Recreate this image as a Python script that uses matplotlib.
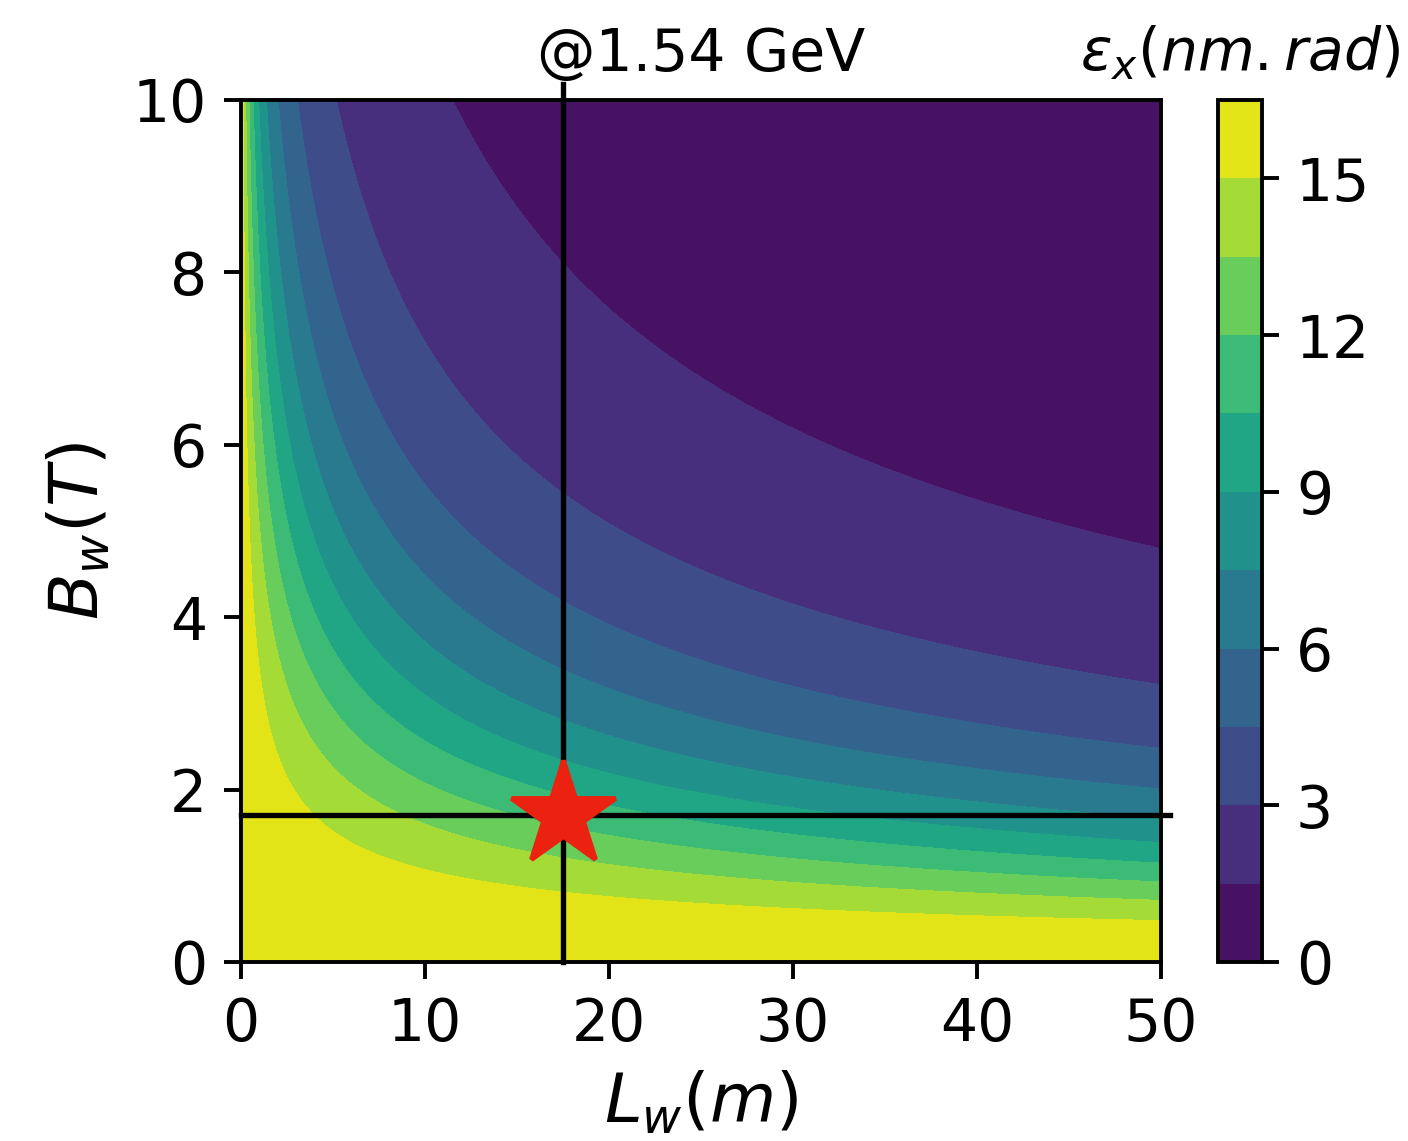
import numpy as np
import matplotlib
matplotlib.use('Agg')
import matplotlib.pyplot as plt

plt.rcParams['font.size'] = 12

# emittance model: eps = eps0 / (1 + k * Lw * Bw^2)
eps0 = 16.5        # nm.rad, bare lattice (Lw = 0 or Bw = 0)
k_damp = 0.0087    # 1/(m T^2)

L_range = [0, 50]      # m
B_range = [0, 10]      # T
levels = np.arange(0, 17, 1.5)
cbar_ticks = [0, 3, 6, 9, 12, 15]
x_ticks = [0, 10, 20, 30, 40, 50]
y_ticks = [0, 2, 4, 6, 8, 10]

# chosen working point
L_sel = 17.5
B_sel = 1.7
energy_label = '@1.54 GeV'

Lw = np.linspace(L_range[0], L_range[1], 600)
Bw = np.linspace(B_range[0], B_range[1], 600)
LL, BB = np.meshgrid(Lw, Bw)
eps = eps0 / (1 + k_damp * LL * BB**2)

fig = plt.figure(figsize=(1408/350, 1141/350), dpi=350)
ax = fig.add_axes([0.1712, 0.1569, 0.6534, 0.7555])
cax = fig.add_axes([0.8651, 0.1569, 0.0312, 0.7555])

cs = ax.contourf(LL, BB, eps, levels=levels, cmap='viridis')
cb = fig.colorbar(cs, cax=cax, ticks=cbar_ticks)
cax.set_title(r'$\epsilon_x(nm.rad)$', fontsize=12)

# cross hair through the working point (runs a bit past the frame)
ax.plot([L_sel, L_sel], [B_range[0], 10.18], c='k', lw=1.1, clip_on=False)
ax.plot([L_range[0], 50.5], [B_sel, B_sel], c='k', lw=1.1, clip_on=False)
ax.plot(L_sel, B_sel, marker='*', ms=22.5, c='#ec2210', mec='#ec2210',
        clip_on=False, zorder=5)

ax.set_xlim(L_range)
ax.set_ylim(B_range)
ax.set_xticks(x_ticks)
ax.set_yticks(y_ticks)
ax.set_xlabel(r'$L_w(m)$', fontsize=14, labelpad=3.5)
ax.set_ylabel(r'$B_w(T)$', fontsize=14, labelpad=4)
ax.set_title(energy_label, fontsize=12)

fig.savefig('out.png', dpi=350)
